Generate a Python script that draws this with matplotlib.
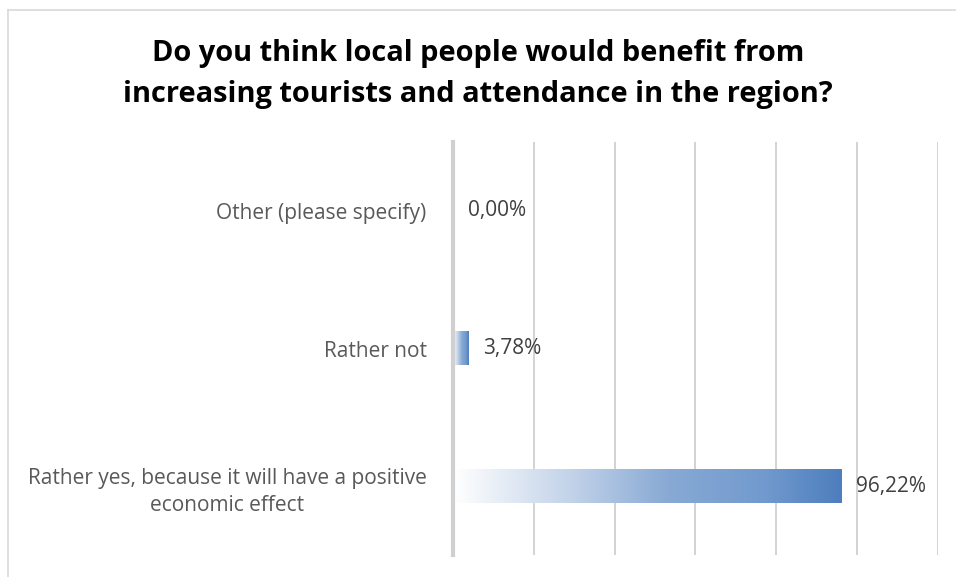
import numpy as np
import matplotlib
matplotlib.use("Agg")
import matplotlib.pyplot as plt
from matplotlib.colors import LinearSegmentedColormap
from matplotlib.lines import Line2D

categories = ["Rather yes, because it will have a positive\neconomic effect",
              "Rather not",
              "Other (please specify)"]
values = [96.22, 3.78, 0.00]
value_labels = ["96,22%", "3,78%", "0,00%"]
title = "Do you think local people would benefit from\nincreasing tourists and attendance in the region?"

plt.rcParams['font.family'] = ['Open Sans', 'DejaVu Sans']

fig = plt.figure(figsize=(9.56, 5.77), dpi=100)
ax = fig.add_axes([0.4738, 0.0381, 0.5073, 0.7158])

# white -> blue gradient used for every bar
grad = LinearSegmentedColormap.from_list(
    "bar_grad", [(0.0, "#ffffff"), (0.3, "#c3d3e9"), (0.55, "#88aad4"),
                 (0.8, "#729ace"), (1.0, "#4d7ebd")])
ramp = np.linspace(0, 1, 256).reshape(1, -1)
bar_h = 0.24

for i, (v, lab) in enumerate(zip(values, value_labels)):
    if v > 0:
        ax.imshow(ramp, cmap=grad, aspect='auto', interpolation='bilinear',
                  extent=[0, v, i - bar_h / 2, i + bar_h / 2], zorder=2)
    ax.annotate(lab, (v, i), xytext=(10.5, 0), textcoords='offset points',
                ha='left', va='center', fontsize=15, color='#404040')

ax.set_xlim(0, 120)
ax.set_ylim(-0.5, 2.5)
ax.set_xticks(np.arange(0, 121, 20))
ax.xaxis.grid(True, color='#d0d0d0', linewidth=1.3, zorder=0)
ax.set_axisbelow(True)
ax.tick_params(axis='x', length=0, labelbottom=False)
ax.set_yticks(range(len(categories)))
ax.set_yticklabels(categories, fontsize=15, color='#595959', multialignment='center')
for t in ax.get_yticklabels():
    t.set_linespacing(1.4)
ax.tick_params(axis='y', length=0, pad=19)
for s in ['top', 'right', 'bottom']:
    ax.spines[s].set_visible(False)
ax.spines['left'].set_color('#d0d0d0')
ax.spines['left'].set_linewidth(3)

fig.text(0.5, 0.872, title, ha='center', va='center', fontsize=20.9,
         fontweight='bold', color='black', linespacing=1.55)

# chart area border (top and left edges)
fig.add_artist(Line2D([8 / 956, 1], [1 - 10 / 577, 1 - 10 / 577], color='#d9d9d9', lw=1.2))
fig.add_artist(Line2D([8 / 956, 8 / 956], [0, 1 - 10 / 577], color='#d9d9d9', lw=1.2))

fig.savefig("out.png", dpi=100)
